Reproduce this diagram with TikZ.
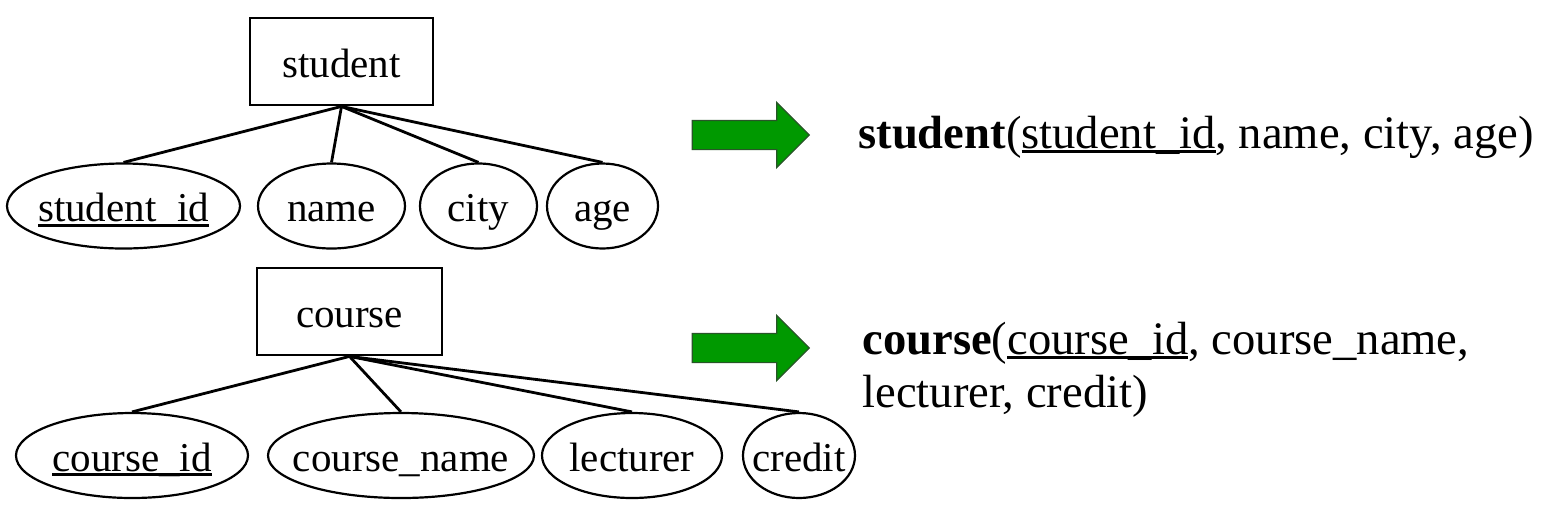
\documentclass[tikz,border=0pt]{standalone}
\usepackage{fontspec}
\setmainfont{Liberation Serif}
\usetikzlibrary{shapes.geometric,shapes.arrows}
\definecolor{arrowgreen}{RGB}{0,153,0}
\definecolor{arrowedge}{RGB}{40,85,40}
\newlength{\pkeywd}
\newcommand{\pkey}[1]{\settowidth{\pkeywd}{#1}\rlap{\rule[-2.6pt]{\pkeywd}{1.4pt}}#1}

\begin{document}
\begin{tikzpicture}[x=0.5pt,y=-0.5pt,
	entity/.style={shape=rectangle,draw=black,line width=1.4pt,inner sep=0pt,text height=15.5pt,text depth=0pt,minimum width=#1,minimum height=43.5pt,font=\fontsize{20.5}{24}\selectfont},
	attr/.style={shape=ellipse,draw=black,line width=1.1pt,inner xsep=-8pt,inner ysep=0pt,text height=18.5pt,text depth=3pt,minimum width=#1,minimum height=42.5pt,font=\fontsize{20.5}{24}\selectfont},
	conv/.style={single arrow,draw=arrowedge,fill=arrowgreen,line width=0.6pt,inner sep=0pt,text height=14pt,text depth=0pt,minimum height=58.5pt,minimum width=32pt,single arrow head extend=9pt},
	rel/.style={anchor=base west,align=left,inner sep=0pt,font=\fontsize{23.3}{26.5}\selectfont}]
	\useasboundingbox (0,0) rectangle (1553,516);
	% student
	\node[entity=91.5pt] (student) at (341.5, 61.5) {student};
	\node[attr=116.5pt] (sid)   at (123.5, 206) {\pkey{student\_id}};
	\node[attr=73.5pt]  (sname) at (331.5, 206) {name};
	\node[attr=58.5pt]  (scity) at (478.5, 206) {city};
	\node[attr=55.5pt]  (sage)  at (602.5, 206) {age};
	\path[-,line width=1.4pt] (student.south) edge (sid.north);
	\path[-,line width=1.4pt] (student.south) edge (sname.north);
	\path[-,line width=1.4pt] (student.south) edge (scity.north);
	\path[-,line width=1.4pt] (student.south) edge (sage.north);
	% course
	\node[entity=92.5pt] (course) at (349.5, 311.5) {course};
	\node[attr=116pt] (cid)      at (132, 455.5) {\pkey{course\_id}};
	\node[attr=133pt] (cname)    at (401, 455.5) {course\_name};
	\node[attr=90pt]  (clect)    at (632, 455.5) {lecturer};
	\node[attr=56pt]  (ccredit)  at (799, 455.5) {credit};
	\path[-,line width=1.4pt] (course.south) edge (cid.north);
	\path[-,line width=1.4pt] (course.south) edge (cname.north);
	\path[-,line width=1.4pt] (course.south) edge (clect.north);
	\path[-,line width=1.4pt] (course.south) edge (ccredit.north);
	% relations
	\node[conv] (sarrow) at (743.5, 135) {};
	\node[conv] (carrow) at (743.5, 348) {};
	\node[rel] (srel) at (858, 148) {\textbf{student}(\pkey{student\_id}, name, city, age)};
	\node[rel] (crel) at (862, 407) {\textbf{course}(\pkey{course\_id}, course\_name,\\lecturer, credit)};
\end{tikzpicture}
\end{document}
